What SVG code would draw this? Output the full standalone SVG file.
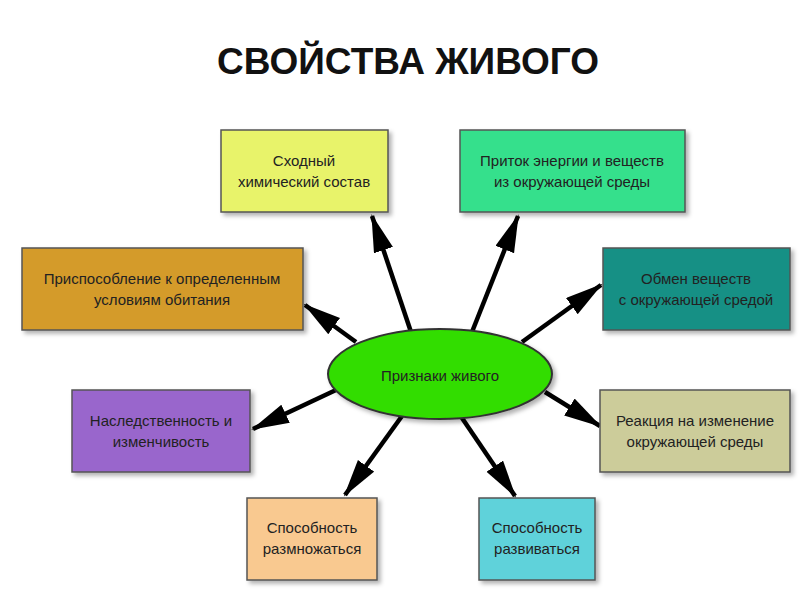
<svg xmlns="http://www.w3.org/2000/svg" width="800" height="600" viewBox="0 0 800 600">
<defs>
<style>
.b{stroke:#555;stroke-width:1.5}
.t{font-family:"Liberation Sans",Arial,sans-serif;font-size:15px;fill:#222;text-anchor:middle}
.c line{stroke:#000;stroke-width:4.5}
</style>
<marker id="a" markerUnits="userSpaceOnUse" markerWidth="40" markerHeight="24" refX="36" refY="10" orient="auto">
<path d="M0,0 L38,10 L0,20 Z" fill="#000"/>
</marker>
<filter id="s" x="-10%" y="-10%" width="130%" height="130%"><feDropShadow dx="3" dy="3" stdDeviation="2" flood-color="#000" flood-opacity="0.3"/></filter>
</defs>
<rect width="800" height="600" fill="#fff"/>
<text x="408" y="74" font-family="Liberation Sans,Arial,sans-serif" font-size="37" font-weight="bold" text-anchor="middle" fill="#111">СВОЙСТВА ЖИВОГО</text>
<g class="c">
<line x1="412" y1="335" x2="372" y2="216" marker-end="url(#a)"/>
<line x1="472" y1="332" x2="518" y2="216" marker-end="url(#a)"/>
<line x1="356" y1="342" x2="305" y2="305" marker-end="url(#a)"/>
<line x1="522" y1="342" x2="601" y2="285" marker-end="url(#a)"/>
<line x1="336" y1="390" x2="253" y2="429" marker-end="url(#a)"/>
<line x1="545" y1="392" x2="600" y2="426" marker-end="url(#a)"/>
<line x1="402" y1="416" x2="345" y2="495" marker-end="url(#a)"/>
<line x1="462" y1="418" x2="515" y2="496" marker-end="url(#a)"/>
</g>
<g id="n1"><rect class="b" x="221" y="130" width="167" height="82" fill="#e8f36b" filter="url(#s)"/><text class="t" x="304" y="166">Сходный</text><text class="t" x="304" y="187">химический состав</text></g>
<g id="n2"><rect class="b" x="460" y="130" width="225" height="82" fill="#35e08c" filter="url(#s)"/><text class="t" x="572" y="166">Приток энергии и веществ</text><text class="t" x="572" y="187">из окружающей среды</text></g>
<g id="n3"><rect class="b" x="22" y="248" width="281" height="82" fill="#d49b2c" filter="url(#s)"/><text class="t" x="162" y="284">Приспособление к определенным</text><text class="t" x="162" y="305">условиям обитания</text></g>
<g id="n4"><rect class="b" x="603" y="248" width="187" height="82" fill="#129085" filter="url(#s)"/><text class="t" x="696" y="284">Обмен веществ</text><text class="t" x="696" y="305">с окружающей средой</text></g>
<g id="n5"><rect class="b" x="72" y="390" width="178" height="82" fill="#9966cc" filter="url(#s)"/><text class="t" x="161" y="426">Наследственность и</text><text class="t" x="161" y="447">изменчивость</text></g>
<g id="n6"><rect class="b" x="600" y="390" width="190" height="82" fill="#cccc9a" filter="url(#s)"/><text class="t" x="695" y="426">Реакция на изменение</text><text class="t" x="695" y="447">окружающей среды</text></g>
<g id="n7"><rect class="b" x="247" y="498" width="130" height="82" fill="#f9c990" filter="url(#s)"/><text class="t" x="312" y="533">Способность</text><text class="t" x="312" y="554">размножаться</text></g>
<g id="n8"><rect class="b" x="479" y="498" width="116" height="82" fill="#5fd2da" filter="url(#s)"/><text class="t" x="537" y="533">Способность</text><text class="t" x="537" y="554">развиваться</text></g>
<g id="center"><ellipse cx="440" cy="374" rx="112" ry="45" fill="#33dd00" stroke="#333" stroke-width="2" filter="url(#s)"/><text class="t" x="440" y="381" font-size="19">Признаки живого</text></g>
</svg>
